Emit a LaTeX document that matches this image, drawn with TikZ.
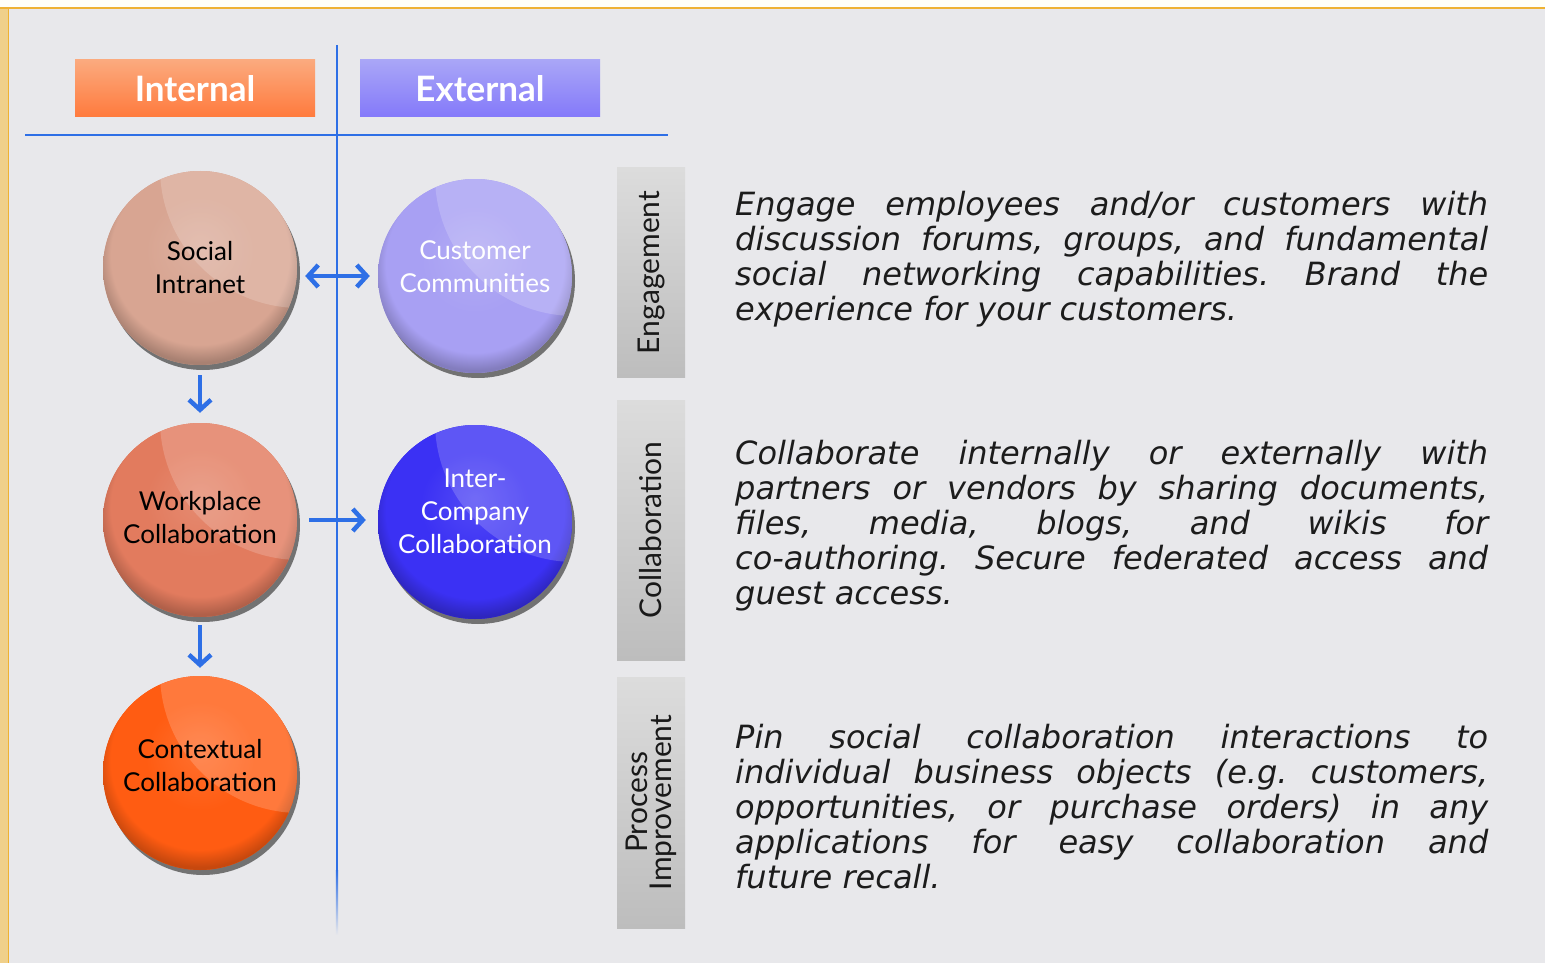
\documentclass[tikz,border=0pt]{standalone}
\usepackage{fontspec}
\setmainfont{Lato}
\newfontfamily\handfont{DejaVu Sans}
\usetikzlibrary{arrows.meta}
\usetikzlibrary{shadows}
\usetikzlibrary{calc}

\definecolor{paper}{HTML}{E8E8EB}
\definecolor{rimgold}{HTML}{F0D08A}
\definecolor{linegold}{HTML}{EFB232}
\definecolor{linkblue}{HTML}{2E6FE6}
\definecolor{socialpink}{HTML}{D8A592}
\definecolor{custlilac}{HTML}{A8A0F3}
\definecolor{workcoral}{HTML}{E27B5E}
\definecolor{intervio}{HTML}{3B31F4}
\definecolor{contorange}{HTML}{FF5C12}
\definecolor{inthi}{HTML}{FBAA7E}
\definecolor{intlo}{HTML}{FF7A3D}
\definecolor{exthi}{HTML}{A9A6F7}
\definecolor{extlo}{HTML}{8479FA}
\definecolor{tabhi}{HTML}{DCDCDC}
\definecolor{tablo}{HTML}{BDBDBD}
\definecolor{inktext}{HTML}{1C1C1C}
\colorlet{bubcol}{gray}

\pgfdeclareradialshading[bubcol]{bubshade}{\pgfpoint{0bp}{6bp}}{%
  color(0bp)=(bubcol!88!white); color(14bp)=(bubcol); color(23bp)=(bubcol);
  color(27bp)=(bubcol!78!black); color(50bp)=(bubcol!78!black)}

\newcommand{\jline}[1]{\makebox[753pt][s]{#1}}

\tikzset{
  bubble/.style={circle, minimum size=194pt, inner sep=0pt, align=center, fill=#1,
    font=\fontsize{26}{33}\selectfont,
    drop shadow={opacity=.7, shadow xshift=3pt, shadow yshift=-5pt, fill=black!75},
    path picture={
      \colorlet{bubcol}{#1}
      \shade[shading=bubshade] (path picture bounding box.south west)
        rectangle (path picture bounding box.north east);
      \fill[white, opacity=.18]
        ([shift={(100pt,100pt)}]path picture bounding box.center) circle (140pt);
    }},
  header/.style 2 args={minimum width=240pt, minimum height=57pt, inner sep=0pt,
    top color=#1, bottom color=#2, text=white, font=\bfseries\fontsize{35}{40}\selectfont},
  tabbox/.style={rotate=90, minimum width=#1, minimum height=68pt, inner sep=0pt,
    top color=tabhi, bottom color=tablo, align=center, text=black!90,
    font=\fontsize{30}{24}\selectfont},
  para/.style={anchor=north west, inner sep=0pt, align=left, text=inktext,
    font=\handfont\itshape\frenchspacing\fontsize{32}{35}\selectfont},
  link/.style={draw=linkblue, line width=4.5pt, -{Straight Barb[length=10pt,width=22pt]}},
  divider/.style={draw=linkblue, line width=2.4pt}
}

\begin{document}
\begin{tikzpicture}[x=1pt, y=-1pt]
  % page and frame
  \fill[paper] (0,0) rectangle (1545,963);
  \useasboundingbox (0,0) rectangle (1545,963);
  \fill[white!97!yellow] (0,0) rectangle (1545,8);
  \fill[rimgold] (0,8) rectangle (8,963);
  \draw[linegold, line width=2pt] (0,8.5) -- (1545,8.5);
  \draw[linegold, line width=1pt] (8,9) -- (8,963);

  % headers
  \node[header={inthi}{intlo}] (int) at (195,88.5) {Internal};
  \node[header={exthi}{extlo}] (ext) at (480,88.5) {External};

  % dividers
  \coordinate (hl) at (25,135);
  \coordinate (hr) at (668,135);
  \coordinate (vt) at (337,45);
  \coordinate (vb) at (337,870);
  \draw[divider] (hl) -- (hr);
  \draw[divider] (vt) -- (vb);
  \shade[top color=linkblue, bottom color=paper] (335.8,870) rectangle (338.2,935);

  % spheres
  \node[bubble=socialpink] (si) at (200,268) {Social\\Intranet};
  \node[bubble=custlilac, text=white, text depth=18pt] (cc) at (475,276) {Customer\\Communities};
  \node[bubble=workcoral, text depth=6pt] (wc) at (200,520) {Workplace\\Collaboration};
  \node[bubble=intervio, text=white, text depth=22pt] (ic) at (475,522) {Inter-\\Company\\Collaboration};
  \node[bubble=contorange, text depth=16pt] (cx) at (200,773) {Contextual\\Collaboration};

  % connectors
  \draw[link, {Straight Barb[length=10pt,width=22pt]}-{Straight Barb[length=10pt,width=22pt]},
    shorten <=8pt, shorten >=8pt] (si.east |- cc.west) -- (cc.west);
  \draw[link, shorten <=12pt, shorten >=12pt] (wc.east) -- (wc.east -| ic.west);
  \draw[link, shorten <=10pt, shorten >=10pt] (si.south) -- (wc.north);
  \draw[link, shorten <=8pt, shorten >=8pt] (wc.south) -- (cx.north);

  % side tabs
  \node[tabbox=209pt] (teng) at (651,272.5) {Engagement};
  \node[tabbox=260pt] (tcol) at (651,530) {Collaboration};
  \node[tabbox=251pt] (tpro) at (651,802.5) {Process\\Improvement};

  % descriptions
  \node[para] (peng) at (735,191) {\jline{Engage employees and/or customers with}\\
    \jline{discussion forums, groups, and fundamental}\\
    \jline{social networking capabilities. Brand the}\\
    experience for your customers.};
  \node[para] (pcol) at (735,440) {\jline{Collaborate internally or externally with}\\
    \jline{partners or vendors by sharing documents,}\\
    \jline{files, media, blogs, and wikis for}\\
    \jline{co-authoring. Secure federated access and}\\
    guest access.};
  \node[para] (ppro) at (735,724) {\jline{Pin social collaboration interactions to}\\
    \jline{individual business objects (e.g. customers,}\\
    \jline{opportunities, or purchase orders) in any}\\
    \jline{applications for easy collaboration and}\\
    future recall.};
\end{tikzpicture}
\end{document}
